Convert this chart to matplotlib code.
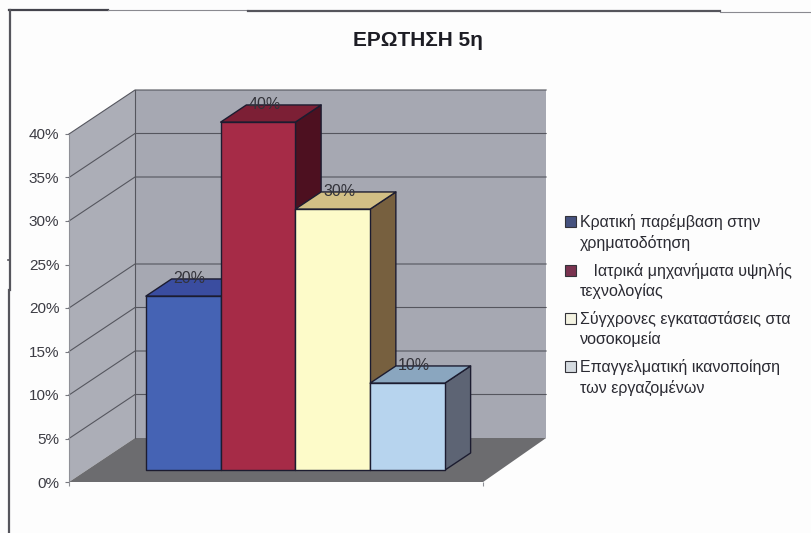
import matplotlib
matplotlib.use('Agg')
import matplotlib.pyplot as plt
from matplotlib.patches import Polygon, Patch

plt.rcParams['font.family'] = ['Liberation Sans', 'DejaVu Sans']

W, H = 811, 533

title = 'ΕΡΩΤΗΣΗ 5η'
categories = ['Κρατική παρέμβαση στην\nχρηματοδότηση',
              '   Ιατρικά μηχανήματα υψηλής\nτεχνολογίας',
              'Σύγχρονες εγκαταστάσεις στα\nνοσοκομεία',
              'Επαγγελματική ικανοποίηση\nτων εργαζομένων']
values = [20, 40, 30, 10]
ticks = [0, 5, 10, 15, 20, 25, 30, 35, 40]
# the 25% gridline does not show in the source
grid_lines = [5, 10, 15, 20, 30, 35, 40]

front_cols = ['#4563b4', '#a62b47', '#fdfbc9', '#b7d4ee']
top_cols = ['#3a4da0', '#7c1f35', '#d2bf85', '#8aa6bf']
side_cols = ['#2b3570', '#4d1020', '#77603f', '#5d6474']
legend_cols = ['#46527f', '#7a3350', '#f4f3e2', '#d5dbe0']

# oblique projection, d is depth 0..1 from front of the floor to the back wall
depth_x = 66 / 74.75
depth_y = 44 / 8.7
wall_l = -0.79
wall_r = 4.71
floor_r = 4.75
bar_d0 = 0.27
bar_d1 = 0.66


def pr(x, v, d):
    return (x + d * depth_x, v + d * depth_y)


def poly(ax, pts, fc, ec='none', lw=0, z=1):
    ax.add_patch(Polygon(pts, closed=True, facecolor=fc, edgecolor=ec,
                         linewidth=lw, zorder=z, clip_on=False, joinstyle='round'))


fig = plt.figure(figsize=(W / 100, H / 100), dpi=100, facecolor='#fdfdfd')
ax = fig.add_axes([69 / W, 1 - 482 / H, (545 - 69) / W, 348 / H])
ax.set_xlim(wall_l, wall_l + 476 / 74.75)
ax.set_ylim(0, 40)
ax.patch.set_visible(False)
for s in ax.spines.values():
    s.set_visible(False)

# walls and floor
poly(ax, [pr(wall_l, 0, 0), pr(wall_l, 0, 1), pr(wall_l, 40, 1), pr(wall_l, 40, 0)], '#acaeb7')
poly(ax, [pr(wall_l, 0, 1), pr(wall_r, 0, 1), pr(wall_r, 40, 1), pr(wall_l, 40, 1)], '#a6a8b2')
poly(ax, [pr(wall_l, 0, 0), pr(floor_r, 0, 0), pr(wall_r, 0, 1), pr(wall_l, 0, 1)], '#6c6c6f')

grid_c = '#55565e'
for t in grid_lines:
    xs = [pr(wall_l, t, 0)[0], pr(wall_l, t, 1)[0], pr(wall_r, t, 1)[0]]
    ys = [pr(wall_l, t, 0)[1], pr(wall_l, t, 1)[1], pr(wall_r, t, 1)[1]]
    ax.plot(xs, ys, color=grid_c, lw=0.8, zorder=2, clip_on=False)
ax.plot(*zip(pr(wall_l, 0, 1), pr(wall_l, 40, 1)), color=grid_c, lw=0.8, zorder=2, clip_on=False)
ax.plot(*zip(pr(wall_l, 0, 0), pr(wall_l, 40, 0)), color='#8f9097', lw=0.8, zorder=2, clip_on=False)

# bars, left to right so each front hides the side of the previous one
edge = '#1c1c30'
for i, v in enumerate(values):
    z = 3 + i
    l, r = i, i + 1
    poly(ax, [pr(r, 0, bar_d0), pr(r, 0, bar_d1), pr(r, v, bar_d1), pr(r, v, bar_d0)],
         side_cols[i], edge, 1, z)
    poly(ax, [pr(l, v, bar_d0), pr(r, v, bar_d0), pr(r, v, bar_d1), pr(l, v, bar_d1)],
         top_cols[i], edge, 1, z)
    poly(ax, [pr(l, 0, bar_d0), pr(r, 0, bar_d0), pr(r, v, bar_d0), pr(l, v, bar_d0)],
         front_cols[i], edge, 1, z)
for i, v in enumerate(values):
    lx, ly = pr(i + 0.24, v, bar_d1)
    ax.text(lx, ly, '%d%%' % v, ha='center', va='center', fontsize=11.5,
            color='#33333a', zorder=10)

ax.set_yticks(ticks)
ax.set_yticklabels(['%d%%' % t for t in ticks], fontsize=11, color='#3c3c44')
ax.tick_params(axis='y', length=3, width=0.8, color='#77787f', pad=4)
ax.set_xticks([wall_l, floor_r])
ax.set_xticklabels([])
ax.tick_params(axis='x', length=3, width=0.8, color='#8f9097')

fig.text(418 / W, 1 - 40 / H, title, ha='center', va='center', fontsize=15,
         fontweight='bold', color='#1d1d24')

handles = [Patch(facecolor=c, edgecolor='#33333a', linewidth=0.8) for c in legend_cols]
leg = fig.legend(handles, categories, loc='upper left', bbox_to_anchor=(565 / W, 1 - 214 / H),
                 frameon=False, fontsize=11.5, labelcolor='#2b2b33', handlelength=0.7,
                 handleheight=0.7, handletextpad=0.25, labelspacing=0.75, borderpad=0,
                 borderaxespad=0)
for t in leg.get_texts():
    t.set_linespacing(1.37)
# swatches sit on the first text line, not between the two
for h in leg.legend_handles:
    h.set_y(h.get_y() + 8)

# scanned page frame
frame = [([9, 108], [9.5, 9.5], 1.6, '#44444c'), ([108, 248], [10, 10], 0.8, '#8a8a90'),
         ([248, 720], [11, 11], 1.6, '#55555c'), ([720, 811], [11.7, 11.7], 0.8, '#8a8a90'),
         ([10, 10], [10, 290], 1.6, '#55555c'), ([9, 9], [290, 533], 1.6, '#55555c'),
         ([7.5, 8.5], [260, 260], 1.2, '#55555c')]
for xs, ys, lw, c in frame:
    fig.add_artist(plt.Line2D([x / W for x in xs], [1 - y / H for y in ys],
                              color=c, lw=lw, transform=fig.transFigure))

fig.savefig('out.png', dpi=100, facecolor=fig.get_facecolor())
